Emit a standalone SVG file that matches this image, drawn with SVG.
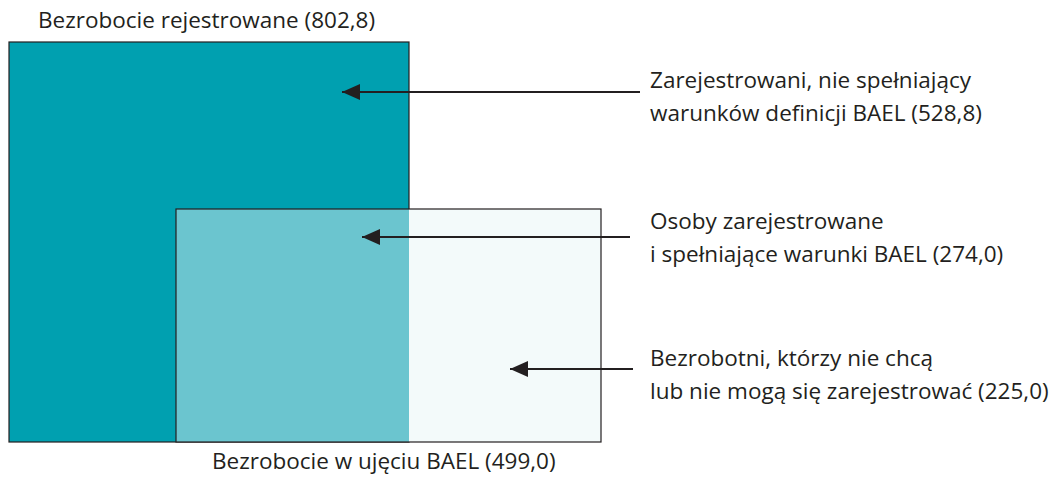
<svg xmlns="http://www.w3.org/2000/svg" width="1050" height="477" viewBox="0 0 1050 477">
<style>
text{font-family:"Open Sans","Liberation Sans",sans-serif;font-size:22.5px;fill:#231f20}
.ln{stroke:#231f20;stroke-width:2;fill:none}
.box{stroke:#231f20;stroke-width:1.2}
</style>
<defs>
<marker id="ah" viewBox="0 0 18 16" refX="18" refY="8" markerWidth="18" markerHeight="16" markerUnits="userSpaceOnUse" orient="auto">
<path d="M18,8 L0,0 L0,16 Z" fill="#231f20"/>
</marker>
</defs>
<rect width="1050" height="477" fill="#ffffff"/>
<g id="registered">
<rect class="box" x="9" y="42" width="400" height="400" fill="#00a0b0"/>
<text x="38" y="28">Bezrobocie rejestrowane (802,8)</text>
</g>
<g id="bael">
<rect x="176" y="209" width="425" height="233" fill="#f3fafa"/>
<rect x="176" y="209" width="233" height="233" fill="#6bc5cf"/>
<rect class="box" x="176" y="209" width="425" height="233" fill="none"/>
<text x="212" y="469">Bezrobocie w ujęciu BAEL (499,0)</text>
</g>
<g id="label1">
<text x="650" y="88">Zarejestrowani, nie spełniający</text>
<text x="650" y="121">warunków definicji BAEL (528,8)</text>
</g>
<g id="label2">
<text x="650" y="229">Osoby zarejestrowane</text>
<text x="650" y="262">i spełniające warunki BAEL (274,0)</text>
</g>
<g id="label3">
<text x="650" y="366">Bezrobotni, którzy nie chcą</text>
<text x="650" y="399">lub nie mogą się zarejestrować (225,0)</text>
</g>
<g id="connectors">
<line class="ln" x1="640" y1="92" x2="342" y2="92" marker-end="url(#ah)"/>
<line class="ln" x1="630" y1="237" x2="362" y2="237" marker-end="url(#ah)"/>
<line class="ln" x1="633" y1="369" x2="510" y2="369" marker-end="url(#ah)"/>
</g>
</svg>
